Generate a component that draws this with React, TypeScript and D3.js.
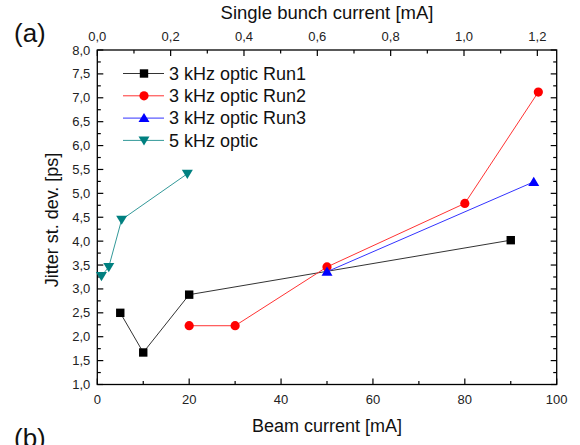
import React from "react";
import * as d3 from "d3";

const run1X = [5, 10, 20, 90];
const run1Y = [2.5, 1.67, 2.88, 4.02];
const run2X = [20, 30, 50, 80, 96];
const run2Y = [2.23, 2.23, 3.46, 4.79, 7.12];
const run3X = [50, 95];
const run3Y = [3.36, 5.24];
const opt5X = [0.9, 2.5, 5.3, 19.6];
const opt5Y = [3.27, 3.46, 4.45, 5.41];

const seriesNames = ["3 kHz optic Run1", "3 kHz optic Run2", "3 kHz optic Run3", "5 kHz optic"];
const seriesColors = ["#000000", "#ff0000", "#0000ff", "#008080"];
const lineColors = ["#333333", "#ff3333", "#3333ff", "#339999"];
const seriesMarkers = ["square", "circle", "triangle", "triangleDown"];

const bottomTicks = [0, 20, 40, 60, 80, 100];
const topTicks = [0, 0.2, 0.4, 0.6, 0.8, 1.0, 1.2];
const leftTicks = [1, 1.5, 2, 2.5, 3, 3.5, 4, 4.5, 5, 5.5, 6, 6.5, 7, 7.5, 8];

const fmt = (v: number) => v.toFixed(1).replace(".", ",");
const FONT = "Liberation Sans, Arial, sans-serif";

function Marker({ type, x, y, color }: { type: string; x: number; y: number; color: string }) {
  if (type === "square") return <rect x={x - 4.2} y={y - 4.2} width={8.4} height={8.4} fill={color} />;
  if (type === "circle") return <circle cx={x} cy={y} r={4.6} fill={color} />;
  if (type === "triangle")
    return <path d={`M${x},${y - 5.2}L${x + 5.5},${y + 4}L${x - 5.5},${y + 4}Z`} fill={color} />;
  return <path d={`M${x},${y + 5.2}L${x + 5.5},${y - 4}L${x - 5.5},${y - 4}Z`} fill={color} />;
}

export default function App() {
  const W = 580, H = 445;
  const L = 97.3, R = 556.7, T = 50, B = 384.5;
  const x = d3.scaleLinear().domain([0, 100]).range([L, R]);
  const xTop = d3.scaleLinear().domain([0, 1.2528]).range([L, R]);
  const y = d3.scaleLinear().domain([1, 8]).range([B, T]);

  const series = [
    { xs: run1X, ys: run1Y },
    { xs: run2X, ys: run2Y },
    { xs: run3X, ys: run3Y },
    { xs: opt5X, ys: opt5Y },
  ];
  const line = d3.line<[number, number]>().x((d) => x(d[0])).y((d) => y(d[1]));

  const minorBottom = d3.range(0, 101, 10);
  const minorTop = d3.range(0, 1.25, 0.1);
  const minorLeft = d3.range(1, 8.001, 0.25);

  return (
    <svg width={W} height={H} style={{ position: "absolute", left: 0, top: 0, background: "#fff" }} fontFamily={FONT}>
      <rect x={0} y={0} width={W} height={H} fill="#fff" />
      {/* frame */}
      <rect x={L} y={T} width={R - L} height={B - T} fill="none" stroke="#000" strokeWidth={1.3} />
      {/* bottom ticks */}
      {minorBottom.map((v) => (
        <line key={"bm" + v} x1={x(v)} x2={x(v)} y1={B} y2={B - (v % 20 === 0 ? 6 : 3.5)} stroke="#000" strokeWidth={1.2} />
      ))}
      {bottomTicks.map((v) => (
        <text key={"bt" + v} x={x(v)} y={B + 19} fontSize={13} textAnchor="middle" fill="#222">{v}</text>
      ))}
      {/* top ticks */}
      {minorTop.map((v, i) => (
        <line key={"tm" + i} x1={xTop(v)} x2={xTop(v)} y1={T} y2={T + (i % 2 === 0 ? 6 : 3.5)} stroke="#000" strokeWidth={1.2} />
      ))}
      {topTicks.map((v) => (
        <text key={"tt" + v} x={xTop(v)} y={T - 9} fontSize={13} textAnchor="middle" fill="#222">{fmt(v)}</text>
      ))}
      {/* left / right ticks */}
      {minorLeft.map((v, i) => (
        <g key={"lm" + i}>
          <line x1={L} x2={L + (i % 2 === 0 ? 6 : 3.5)} y1={y(v)} y2={y(v)} stroke="#000" strokeWidth={1.2} />
          <line x1={R} x2={R - (i % 2 === 0 ? 6 : 3.5)} y1={y(v)} y2={y(v)} stroke="#000" strokeWidth={1.2} />
        </g>
      ))}
      {leftTicks.map((v) => (
        <text key={"lt" + v} x={L - 7} y={y(v) + 4.5} fontSize={13} textAnchor="end" fill="#222">{fmt(v)}</text>
      ))}
      {/* axis titles */}
      <text x={(L + R) / 2} y={432} fontSize={18} textAnchor="middle" fill="#111">Beam current [mA]</text>
      <text x={(L + R) / 2} y={19} fontSize={18.5} textAnchor="middle" fill="#111">Single bunch current [mA]</text>
      <text transform={`translate(58,220) rotate(-90)`} fontSize={18} textAnchor="middle" fill="#111">Jitter st. dev. [ps]</text>
      <text x={14} y={42} fontSize={26} fill="#111">(a)</text>
      <text x={14} y={447} fontSize={26} fill="#111">(b)</text>
      {/* series */}
      {series.map((s, si) => {
        const pts = s.xs.map((v, i) => [v, s.ys[i]] as [number, number]);
        return (
          <g key={"s" + si}>
            <path d={line(pts) || ""} fill="none" stroke={lineColors[si]} strokeWidth={1} />
            {pts.map((p, i) => (
              <Marker key={i} type={seriesMarkers[si]} x={x(p[0])} y={y(p[1])} color={seriesColors[si]} />
            ))}
          </g>
        );
      })}
      {/* legend */}
      {seriesNames.map((n, i) => {
        const ly = 73.5 + i * 22.3;
        return (
          <g key={"lg" + i}>
            <line x1={123} x2={164} y1={ly} y2={ly} stroke={lineColors[i]} strokeWidth={1} />
            <Marker type={seriesMarkers[i]} x={144} y={ly} color={seriesColors[i]} />
            <text x={169} y={ly + 6.3} fontSize={18} fill="#111">{n}</text>
          </g>
        );
      })}
    </svg>
  );
}
